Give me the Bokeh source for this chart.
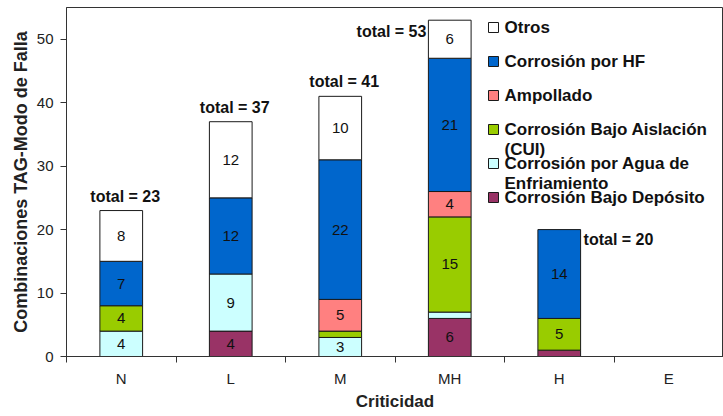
from bokeh.plotting import figure
from bokeh.models import FixedTicker, Range1d, ColumnDataSource
from bokeh.embed import file_html
from bokeh.resources import INLINE
from bokeh.core.properties import value

# ---------------- data ----------------
categories = ["N", "L", "M", "MH", "H", "E"]
series_names = ["Corrosión Bajo Depósito", "Corrosión por Agua de Enfriamiento",
                "Corrosión Bajo Aislación (CUI)", "Ampollado", "Corrosión por HF", "Otros"]
deposito = [0, 4, 0, 6, 1, 0]
agua = [4, 9, 3, 1, 0, 0]
cui = [4, 0, 1, 15, 5, 0]
ampollado = [0, 0, 5, 4, 0, 0]
hf = [7, 12, 22, 21, 14, 0]
otros = [8, 12, 10, 6, 0, 0]
y_ticks = [0, 10, 20, 30, 40, 50]
legend_labels = ["Corrosión Bajo Depósito", "Corrosión por Agua de\nEnfriamiento",
                 "Corrosión Bajo Aislación\n(CUI)", "Ampollado", "Corrosión por HF", "Otros"]

# ---------------- style ----------------
colors = ["#993366", "#CCFFFF", "#99CC00", "#FF8080", "#0066CC", "#FFFFFF"]
total_place = ["above", "above", "above", "left", "right", "above"]
FONT = "Liberation Sans"
W, H = 723, 416
BL, BR, BT, BB = 66, 0, 7, 60
FW = W - BL - BR
FH = H - BT - BB
XMAX, YMAX = 6.0, 55.0
BAR_W = 0.39

series = [deposito, agua, cui, ampollado, hf, otros]
n = len(categories)
xs = [i + 0.5 for i in range(n)]

p = figure(width=W, height=H, output_backend="svg", toolbar_location=None,
           x_range=Range1d(0, XMAX), y_range=Range1d(0, YMAX),
           min_border_left=BL, min_border_right=BR, min_border_top=BT,
           min_border_bottom=BB)
p.xgrid.visible = False
p.ygrid.visible = False
p.outline_line_color = "#333333"
p.outline_line_width = 1
p.background_fill_color = "white"
p.border_fill_color = "white"

# stacked bars and segment labels
bottoms = [0] * n
lab_x, lab_y, lab_t = [], [], []
for vals, col in zip(series, colors):
    tops = [b + v for b, v in zip(bottoms, vals)]
    idx = [i for i in range(n) if vals[i] > 0]
    src = ColumnDataSource(dict(x=[xs[i] for i in idx], b=[bottoms[i] for i in idx],
                                t=[tops[i] for i in idx]))
    p.vbar(x="x", bottom="b", top="t", width=BAR_W, source=src,
           fill_color=col, line_color="#1a1a1a", line_width=1)
    for i in idx:
        if vals[i] > 1:
            lab_x.append(xs[i]); lab_y.append((bottoms[i] + tops[i]) / 2); lab_t.append(str(vals[i]))
    bottoms = tops

p.text(x=lab_x, y=lab_y, text=lab_t, text_align="center", text_baseline="middle",
       text_font=value(FONT), text_font_size="15px", text_color="#111111")

# totals
totals = [sum(s[i] for s in series) for i in range(n)]
for i in range(n):
    if totals[i] == 0:
        continue
    t = "total = %d" % totals[i]
    kw = dict(text_font=value(FONT), text_font_size="16px", text_font_style="bold",
              text_color="#111111")
    if total_place[i] == "above":
        p.text(x=[xs[i]], y=[totals[i]], text=[t], text_align="center",
               text_baseline="bottom", x_offset=4, y_offset=-6, **kw)
    elif total_place[i] == "left":
        p.text(x=[xs[i] - BAR_W / 2], y=[totals[i]], text=[t], text_align="right",
               text_baseline="top", x_offset=-2, y_offset=3, **kw)
    else:
        p.text(x=[xs[i] + BAR_W / 2], y=[totals[i]], text=[t], text_align="left",
               text_baseline="top", x_offset=3, y_offset=1, **kw)

# legend (drawn manually, top to bottom = reverse stack order)
px_x = XMAX / FW
px_y = YMAX / FH
leg_sq_x = (493 - BL) * px_x
leg_tx_x = (504 - BL) * px_x
leg_top_px = 27 - BT
leg_step_px = 34
order = list(range(len(series)))[::-1]
for k, si in enumerate(order):
    cy_px = leg_top_px + k * leg_step_px
    y_d = YMAX - cy_px * px_y
    p.scatter(x=[leg_sq_x], y=[y_d], marker="square", size=10,
              fill_color=colors[si], line_color="#1a1a1a", line_width=1)
    lines = legend_labels[si].split("\n")
    for j, ln in enumerate(lines):
        p.text(x=[leg_tx_x], y=[y_d - j * 20 * px_y], text=[ln], text_align="left",
               text_baseline="middle", text_font=value(FONT), text_font_size="17px",
               text_font_style="bold", text_color="#111111")

# axes
p.yaxis.ticker = FixedTicker(ticks=y_ticks)
p.yaxis.major_tick_out = 6
p.yaxis.major_tick_in = 0
p.yaxis.minor_tick_out = 0
p.yaxis.minor_tick_in = 0
p.yaxis.major_label_standoff = 7
p.yaxis.major_label_text_font = FONT
p.yaxis.major_label_text_font_size = "15px"
p.yaxis.major_label_text_color = "#222222"
p.yaxis.axis_label = "Combinaciones TAG-Modo de Falla"
p.yaxis.axis_label_text_font = FONT
p.yaxis.axis_label_text_font_size = "18px"
p.yaxis.axis_label_text_font_style = "bold"
p.yaxis.axis_label_text_color = "#222222"
p.yaxis.axis_label_standoff = 3
p.yaxis.axis_line_color = "#333333"
p.yaxis.major_tick_line_color = "#333333"

p.xaxis.ticker = FixedTicker(ticks=xs, minor_ticks=[float(i) for i in range(n + 1)])
p.xaxis.major_label_overrides = {x: c for x, c in zip(xs, categories)}
p.xaxis.major_tick_out = 0
p.xaxis.major_tick_in = 0
p.xaxis.minor_tick_out = 6
p.xaxis.minor_tick_in = 0
p.xaxis.minor_tick_line_color = "#333333"
p.xaxis.major_label_standoff = 7
p.xaxis.major_label_text_font = FONT
p.xaxis.major_label_text_font_size = "15px"
p.xaxis.major_label_text_color = "#222222"
p.xaxis.axis_label = "Criticidad"
p.xaxis.axis_label_text_font = FONT
p.xaxis.axis_label_text_font_size = "17px"
p.xaxis.axis_label_text_font_style = "bold"
p.xaxis.axis_label_text_color = "#222222"
p.xaxis.axis_label_standoff = 2
p.xaxis.axis_line_color = "#333333"

open("out.html", "w").write(file_html(p, INLINE))
